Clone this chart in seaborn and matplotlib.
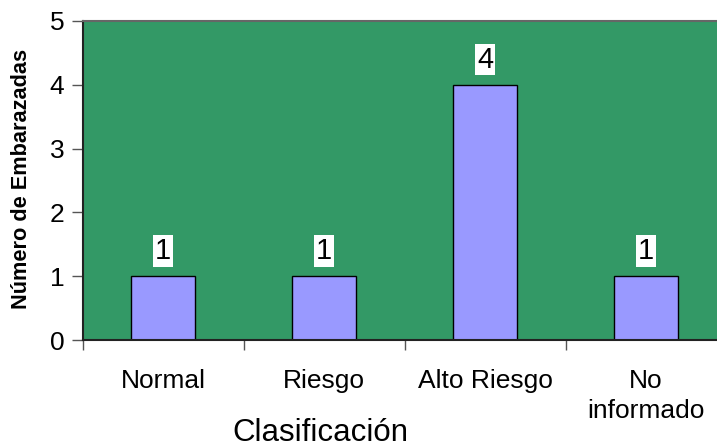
import matplotlib
matplotlib.use("Agg")
import matplotlib.pyplot as plt
import seaborn as sns
import pandas as pd
from matplotlib.ticker import FixedLocator

# Embarazos por clasificación
categorias = ["Normal", "Riesgo", "Alto Riesgo", "No\ninformado"]
embarazadas = [1, 1, 4, 1]
y_ticks = [0, 1, 2, 3, 4, 5]

df = pd.DataFrame({"Clasificación": categorias, "Embarazadas": embarazadas})

sns.set_style("white")
plt.rcParams["font.family"] = ["Liberation Sans", "DejaVu Sans"]
plt.rcParams["text.color"] = "black"
plt.rcParams["axes.labelcolor"] = "black"
plt.rcParams["xtick.labelcolor"] = "black"
plt.rcParams["ytick.labelcolor"] = "black"

fig = plt.figure(figsize=(7.17, 4.47), dpi=100)
ax = fig.add_axes([82.5 / 717, 107 / 447, 644 / 717, 319 / 447])
ax.set_facecolor("#339966")

sns.barplot(data=df, x="Clasificación", y="Embarazadas", color="#9999FF",
            edgecolor="black", linewidth=1.0, width=0.4, saturation=1, ax=ax)

ax.set_xlim(-0.5, 3.5)
ax.set_ylim(0, 5)
ax.set_yticks(y_ticks)
ax.tick_params(axis="y", which="major", direction="out", length=8, width=1,
               color="#555555", labelsize=19, pad=5, left=True,
               labelcolor="black")
ax.tick_params(axis="x", which="major", length=0, labelsize=19, pad=21,
               labelcolor="black")
ax.xaxis.set_minor_locator(FixedLocator([-0.5, 0.5, 1.5, 2.5, 3.5]))
ax.tick_params(axis="x", which="minor", direction="out", length=7, width=1,
               color="#555555", bottom=True)
for lbl in ax.get_xticklabels():
    lbl.set_linespacing(1.3)

for side in ["left", "bottom"]:
    ax.spines[side].set_color("#222222")
    ax.spines[side].set_linewidth(1.5)
ax.spines["top"].set_color("#666666")
ax.spines["top"].set_linewidth(1.5)
ax.spines["right"].set_visible(False)

# Etiquetas de valor sobre cada barra
for i, v in enumerate(embarazadas):
    ax.annotate(str(v), xy=(i, v), xytext=(0, 8), textcoords="offset points",
                ha="center", va="bottom", fontsize=21, color="black",
                bbox=dict(boxstyle="square,pad=0.06", facecolor="white",
                          edgecolor="none"))

ax.set_xlabel("Clasificación", fontsize=22.5, color="black")
ax.xaxis.set_label_coords(0.369, -0.243)
ax.set_ylabel("Número de Embarazadas", fontsize=15.7, fontweight="bold",
              color="black")
ax.yaxis.set_label_coords(-0.078, 0.505)

fig.savefig("out.png", dpi=100)
